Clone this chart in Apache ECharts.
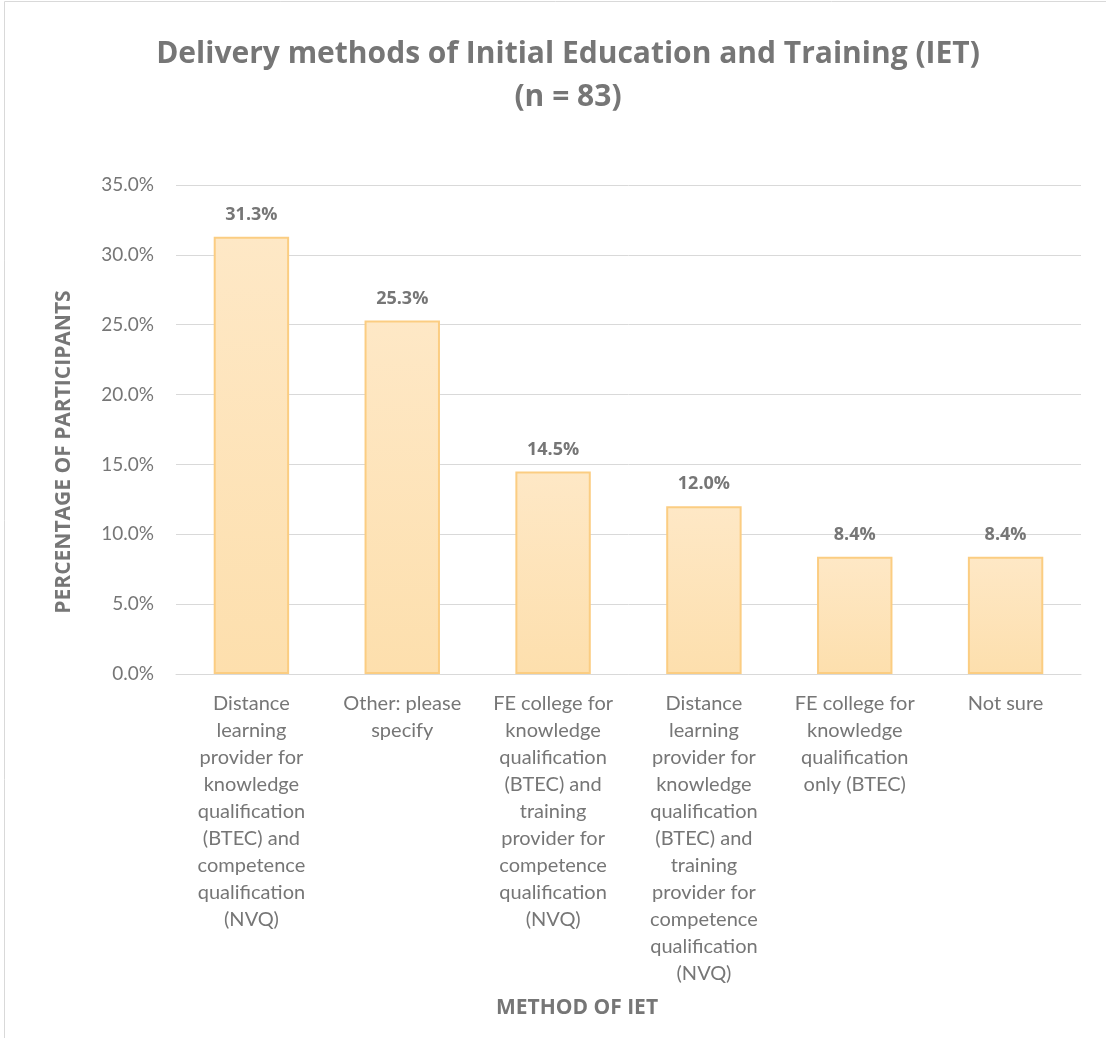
<!DOCTYPE html>
<html lang="en">
<head>
    <meta charset="UTF-8">
    <title>IET delivery methods</title>
    <script src="https://cdn.jsdelivr.net/npm/echarts@6/dist/echarts.min.js"></script>
    <style>
        html, body { margin: 0; padding: 0; background: #fff; }
        #main { width: 1106px; height: 1038px; }
    </style>
</head>
<body>
<div id="main"></div>
<script type="text/javascript">
    var categories = [
        'Distance\nlearning\nprovider for\nknowledge\nqualification\n(BTEC) and\ncompetence\nqualification\n(NVQ)',
        'Other: please\nspecify',
        'FE college for\nknowledge\nqualification\n(BTEC) and\ntraining\nprovider for\ncompetence\nqualification\n(NVQ)',
        'Distance\nlearning\nprovider for\nknowledge\nqualification\n(BTEC) and\ntraining\nprovider for\ncompetence\nqualification\n(NVQ)',
        'FE college for\nknowledge\nqualification\nonly (BTEC)',
        'Not sure'
    ];
    var percentages = [31.3, 25.3, 14.5, 12.0, 8.4, 8.4];
    var yTicks = [0, 5, 10, 15, 20, 25, 30, 35];

    var grey = '#767676';
    var font = 'Lato, "Open Sans", sans-serif';
    var boldFont = '"Open Sans", Lato, sans-serif';

    var myChart = echarts.init(document.getElementById('main'));
    var option = {
        animation: false,
        textStyle: { fontFamily: font },
        title: {
            text: 'Delivery methods of Initial Education and Training (IET)\n(n = 83)',
            left: 563,
            top: 28,
            textAlign: 'center',
            textStyle: {
                color: grey,
                fontSize: 30,
                fontWeight: 'bold',
                lineHeight: 43,
                fontFamily: boldFont
            }
        },
        graphic: [
            {
                type: 'rect',
                shape: { x: 4.5, y: 1.5, width: 1110, height: 1050 },
                style: { fill: 'none', stroke: '#d9d9d9', lineWidth: 1 },
                silent: true
            },
            {
                type: 'text',
                x: 64,
                y: 452,
                rotation: Math.PI / 2,
                style: {
                    text: 'PERCENTAGE OF PARTICIPANTS',
                    fill: grey,
                    font: 'bold 21px ' + boldFont,
                    align: 'center',
                    verticalAlign: 'middle'
                }
            },
            {
                type: 'text',
                x: 577,
                y: 1008,
                style: {
                    text: 'METHOD OF IET',
                    fill: grey,
                    font: 'bold 21px ' + boldFont,
                    align: 'center',
                    verticalAlign: 'middle'
                }
            }
        ],
        grid: {
            left: 176,
            right: 25,
            top: 185,
            bottom: 364,
            containLabel: false
        },
        xAxis: {
            type: 'category',
            data: categories,
            axisLine: { show: true, lineStyle: { color: '#d9d9d9', width: 1 } },
            axisTick: { show: false },
            axisLabel: {
                interval: 0,
                color: grey,
                fontSize: 20,
                lineHeight: 27,
                margin: 16,
                align: 'center',
                verticalAlign: 'top',
                fontFamily: font
            }
        },
        yAxis: {
            type: 'value',
            min: yTicks[0],
            max: yTicks[yTicks.length - 1],
            interval: 5,
            axisLine: { show: false },
            axisTick: { show: false },
            splitLine: { lineStyle: { color: '#d9d9d9', width: 1 } },
            axisLabel: {
                color: grey,
                fontSize: 19,
                margin: 22,
                fontFamily: font,
                formatter: function (v) { return v.toFixed(1) + '%'; }
            }
        },
        series: [
            {
                type: 'bar',
                data: percentages,
                barWidth: '50%',
                itemStyle: {
                    color: {
                        type: 'linear', x: 0, y: 0, x2: 0, y2: 1,
                        colorStops: [
                            { offset: 0, color: '#fee8c6' },
                            { offset: 1, color: '#fddfad' }
                        ]
                    },
                    borderColor: '#fbcd82',
                    borderWidth: 2
                },
                label: {
                    show: true,
                    position: 'top',
                    distance: 13,
                    color: grey,
                    fontSize: 18,
                    fontWeight: 'bold',
                    fontFamily: boldFont,
                    formatter: function (p) { return p.value.toFixed(1) + '%'; }
                }
            }
        ]
    };
    myChart.setOption(option);
</script>
</body>
</html>
